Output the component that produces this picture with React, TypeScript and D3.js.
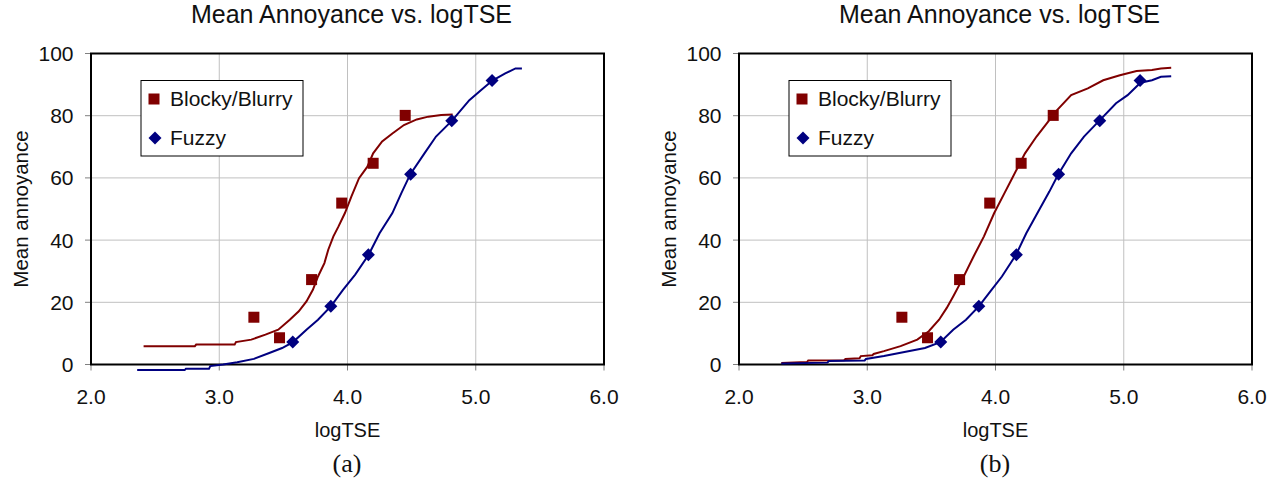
import * as d3 from "d3";

// --- data ---
const xTicks = [2, 3, 4, 5, 6];
const yTicks = [0, 20, 40, 60, 80, 100];

const blockyPts: [number, number][] = [
  [3.27, 15.2], [3.47, 8.6], [3.72, 27.3], [3.955, 51.9], [4.2, 64.7], [4.45, 80.1],
];
const fuzzyPts: [number, number][] = [
  [3.573, 7.2], [3.87, 18.7], [4.163, 35.3], [4.492, 61.2], [4.813, 78.4], [5.127, 91.3],
];

// fitted curves, panel (a)
const blockyFitA: [number, number][] = [
  [2.41, 5.9], [2.81, 5.9], [2.82, 6.4], [3.12, 6.4], [3.13, 7.2], [3.25, 8.0], [3.36, 9.6],
  [3.46, 11.2], [3.55, 14.4], [3.62, 17.1], [3.68, 20.3], [3.73, 24.0], [3.77, 28.3],
  [3.82, 32.6], [3.85, 36.9], [3.89, 41.2], [3.93, 44.4], [3.98, 48.7], [4.03, 54.0],
  [4.09, 59.9], [4.155, 63.6], [4.2, 67.9], [4.27, 71.7], [4.35, 74.3], [4.44, 77.0],
  [4.54, 78.8], [4.63, 79.7], [4.73, 80.2], [4.82, 80.4],
];
const fuzzyFitA: [number, number][] = [
  [2.36, -1.8], [2.73, -1.8], [2.74, -1.4], [2.92, -1.4], [2.93, -0.5], [3.03, 0.0],
  [3.14, 0.7], [3.27, 1.8], [3.39, 3.7], [3.49, 5.3], [3.575, 7.2], [3.68, 11.2],
  [3.77, 14.4], [3.87, 18.7], [3.965, 24.0], [4.06, 28.9], [4.165, 35.3], [4.25, 42.2],
  [4.35, 48.7], [4.42, 55.1], [4.49, 61.2], [4.6, 67.9], [4.69, 73.3], [4.815, 78.4],
  [4.95, 85.0], [5.04, 88.2], [5.13, 91.3], [5.23, 93.6], [5.31, 95.2], [5.36, 95.2],
];

// fitted curves, panel (b)
const blockyFitB: [number, number][] = [
  [2.33, 0.5], [2.53, 0.8], [2.54, 1.3], [2.82, 1.4], [2.83, 1.8], [2.94, 2.0], [2.95, 2.7],
  [3.04, 3.0], [3.05, 3.4], [3.13, 4.3], [3.26, 5.9], [3.39, 8.0], [3.48, 10.7],
  [3.56, 14.4], [3.62, 18.2], [3.67, 21.9], [3.74, 27.3], [3.83, 34.8], [3.91, 41.2],
  [3.99, 48.7], [4.07, 55.1], [4.13, 59.9], [4.23, 67.9], [4.32, 73.3], [4.4, 77.5],
  [4.48, 81.8], [4.59, 86.6], [4.72, 88.8], [4.84, 91.4], [4.97, 93.0], [5.1, 94.4],
  [5.22, 94.7], [5.29, 95.2], [5.37, 95.4],
];
const fuzzyFitB: [number, number][] = [
  [2.33, 0.3], [2.69, 0.6], [2.7, 1.1], [2.98, 1.3], [2.99, 1.8], [3.13, 2.7], [3.29, 4.0],
  [3.45, 5.3], [3.57, 7.2], [3.67, 11.2], [3.77, 14.4], [3.87, 18.7], [3.96, 23.5],
  [4.05, 28.3], [4.16, 35.3], [4.24, 42.2], [4.34, 49.7], [4.42, 55.6], [4.49, 61.2],
  [4.59, 67.9], [4.69, 73.3], [4.81, 78.4], [4.94, 84.0], [5.03, 86.6], [5.13, 90.6],
  [5.22, 91.4], [5.29, 92.5], [5.37, 92.7],
];

const RED = "#800000";
const BLUE = "#000080";
const SANS = "'Liberation Sans', Arial, sans-serif";

function Panel({ dx, blockyFit, fuzzyFit, caption }: {
  dx: number;
  blockyFit: [number, number][];
  fuzzyFit: [number, number][];
  caption: string;
}) {
  const left = 91, right = 604, top = 53.5, bottom = 364.5;
  const x = d3.scaleLinear().domain([2, 6]).range([left, right]);
  const y = d3.scaleLinear().domain([0, 100]).range([bottom, top]);
  const line = d3.line<[number, number]>().x((d) => x(d[0])).y((d) => y(d[1]));
  const diamond = (cx: number, cy: number, r: number) =>
    `M${cx},${cy - r}L${cx + r},${cy}L${cx},${cy + r}L${cx - r},${cy}Z`;

  return (
    <g transform={`translate(${dx},0)`} fontFamily={SANS} fill="#111">
      <text x={351.5} y={23} textAnchor="middle" fontSize={25}>Mean Annoyance vs. logTSE</text>

      {/* grid */}
      {xTicks.slice(1, -1).map((t) => (
        <line key={"gx" + t} x1={x(t)} x2={x(t)} y1={top} y2={bottom} stroke="#c0c0c0" strokeWidth={1} />
      ))}
      {yTicks.slice(1, -1).map((t) => (
        <line key={"gy" + t} x1={left} x2={right} y1={y(t)} y2={y(t)} stroke="#c0c0c0" strokeWidth={1} />
      ))}

      {/* ticks */}
      {xTicks.map((t) => (
        <line key={"tx" + t} x1={x(t)} x2={x(t)} y1={bottom} y2={bottom + 6} stroke="#808080" strokeWidth={1} />
      ))}
      {yTicks.map((t) => (
        <line key={"ty" + t} x1={left - 6} x2={left} y1={y(t)} y2={y(t)} stroke="#808080" strokeWidth={1} />
      ))}

      {/* frame */}
      <rect x={left} y={top} width={right - left} height={bottom - top} fill="none" stroke="#000" strokeWidth={2} />

      {/* tick labels */}
      {xTicks.map((t) => (
        <text key={"lx" + t} x={x(t)} y={404} textAnchor="middle" fontSize={21}>{t.toFixed(1)}</text>
      ))}
      {yTicks.map((t) => (
        <text key={"ly" + t} x={73.5} y={y(t)} dy="0.36em" textAnchor="end" fontSize={21}>{t}</text>
      ))}

      <text x={347.5} y={437} textAnchor="middle" fontSize={20}>logTSE</text>
      <text transform={`translate(28,209) rotate(-90)`} textAnchor="middle" fontSize={20.5}>Mean annoyance</text>
      <text x={347} y={471.5} textAnchor="middle" fontSize={26} fontFamily="'Liberation Serif', 'Times New Roman', serif">{caption}</text>

      {/* fits */}
      <path d={line(blockyFit) ?? ""} fill="none" stroke={RED} strokeWidth={2} />
      <path d={line(fuzzyFit) ?? ""} fill="none" stroke={BLUE} strokeWidth={2} />

      {/* markers */}
      {blockyPts.map((p, i) => (
        <rect key={"b" + i} x={x(p[0]) - 5.5} y={y(p[1]) - 5.5} width={11} height={11} fill={RED} />
      ))}
      {fuzzyPts.map((p, i) => (
        <path key={"f" + i} d={diamond(x(p[0]), y(p[1]), 6.5)} fill={BLUE} />
      ))}

      {/* legend */}
      <rect x={141} y={80.5} width={162} height={75.5} fill="#fff" stroke="#000" strokeWidth={1} />
      <rect x={148.5} y={93.5} width={11} height={11} fill={RED} />
      <text x={170} y={106} fontSize={21}>Blocky/Blurry</text>
      <path d={diamond(155, 138, 6.5)} fill={BLUE} />
      <text x={170} y={145} fontSize={21}>Fuzzy</text>
    </g>
  );
}

export default function App() {
  return (
    <svg
      width={1279}
      height={479}
      style={{ position: "absolute", left: 0, top: 0, background: "#fff" }}
    >
      <rect width={1279} height={479} fill="#fff" />
      <Panel dx={0} blockyFit={blockyFitA} fuzzyFit={fuzzyFitA} caption="(a)" />
      <Panel dx={648} blockyFit={blockyFitB} fuzzyFit={fuzzyFitB} caption="(b)" />
    </svg>
  );
}
